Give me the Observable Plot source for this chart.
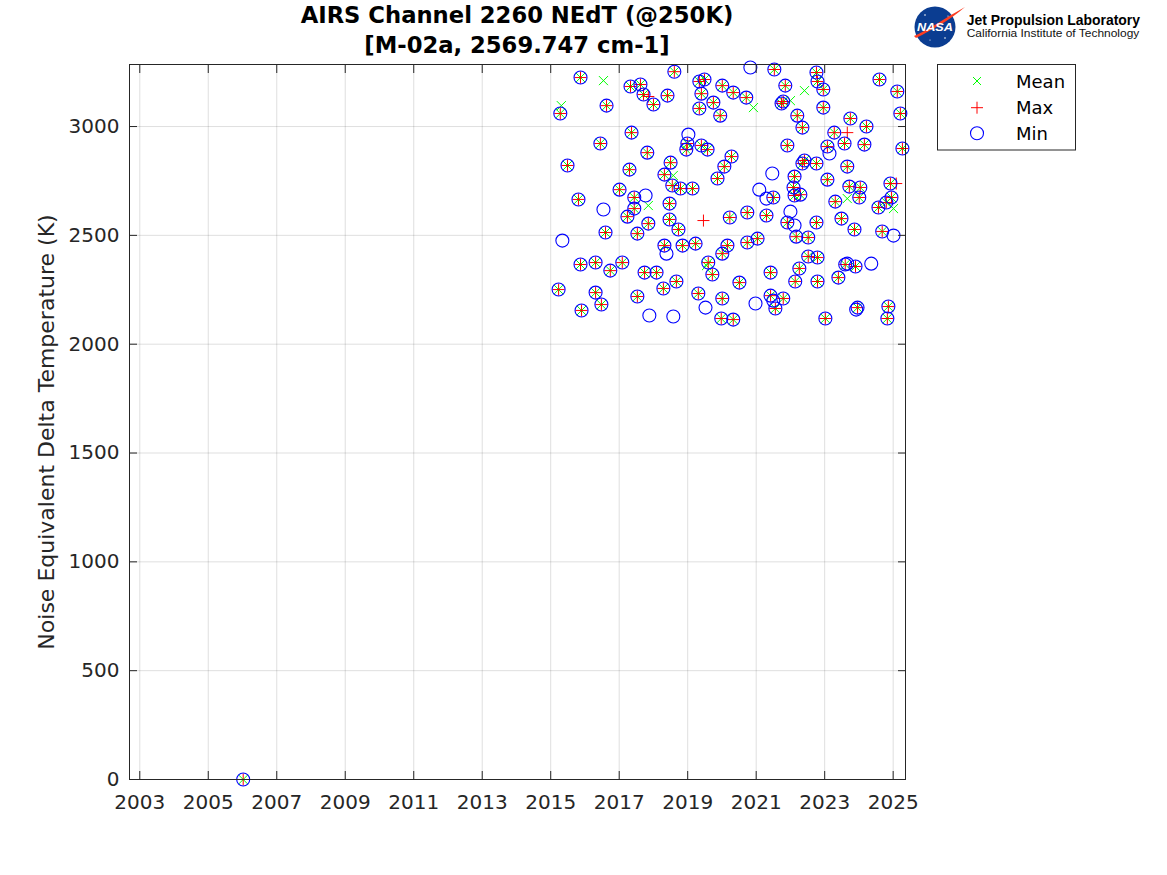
<!DOCTYPE html>
<html>
<head>
<meta charset="utf-8">
<script src="https://cdn.jsdelivr.net/npm/d3@7"></script>
<script src="https://cdn.jsdelivr.net/npm/@observablehq/plot@0.6"></script>
<style>
  html, body { margin: 0; padding: 0; background: #ffffff; }
  #wrap { position: relative; width: 1167px; height: 875px; overflow: hidden; background: #ffffff; }
  #wrap > svg { position: absolute; left: 0; top: 0; }
  #overlay { pointer-events: none; }
</style>
</head>
<body>
<div id="wrap"></div>
<script>
// ---- tick labels ----
const tickYears = [2003, 2005, 2007, 2009, 2011, 2013, 2015, 2017, 2019, 2021, 2023, 2025];
const nedtTicks = [0, 500, 1000, 1500, 2000, 2500, 3000];

// ---- epochs where Mean = Max = Min (decimal year, NEdT) ----
const epochYears = [
  2006.02,
  2015.87, 2015.28, 2016.63, 2017.33, 2017.62, 2017.71, 2018.00, 2018.41, 2018.61, 2019.34,
  2019.49, 2019.40, 2020.01, 2019.75, 2019.34, 2019.95, 2020.33, 2017.36, 2016.45, 2017.82,
  2018.99, 2018.96, 2019.40, 2019.58, 2015.49, 2017.30, 2018.50, 2018.32, 2018.55, 2018.79,
  2019.14, 2020.07, 2019.87, 2020.28, 2017.01, 2015.81, 2017.44, 2017.44, 2018.47, 2017.24,
  2018.47, 2018.73, 2020.23, 2016.60, 2017.53, 2017.85, 2018.32, 2018.85, 2019.23, 2020.16,
  2020.01, 2019.60, 2019.72, 2015.87, 2016.31, 2016.74, 2017.09, 2017.74, 2018.09, 2018.67,
  2018.29, 2017.53, 2015.23, 2016.31, 2016.48, 2015.90, 2019.31, 2020.01, 2019.98, 2020.33,
  2021.53, 2022.76, 2022.79, 2022.96, 2021.85, 2020.71, 2021.74, 2021.79, 2022.20, 2022.35,
  2022.96, 2023.75, 2024.22, 2024.60, 2025.12, 2025.21, 2023.28, 2023.58, 2024.16, 2023.08,
  2025.27, 2021.91, 2022.41, 2022.35, 2022.76, 2023.66, 2022.12, 2023.08, 2022.09, 2022.12,
  2022.29, 2021.50, 2023.72, 2024.04, 2024.01, 2024.92, 2024.95, 2024.80, 2024.57, 2023.31,
  2020.74, 2021.30, 2021.91, 2022.76, 2023.49, 2023.87, 2024.68, 2022.17, 2022.52, 2020.74,
  2021.04, 2022.52, 2022.79, 2023.60, 2023.90, 2023.40, 2022.26, 2021.42, 2022.14, 2022.79,
  2020.51, 2021.42, 2021.79, 2021.56, 2023.02, 2023.96, 2024.86, 2024.83
];
const epochNedt = [
  0,
  3225, 3060, 3096, 3184, 3193, 3147, 3101, 3142, 3252, 3207,
  3216, 3151, 3188, 3110, 3083, 3050, 3156, 2972, 2922, 2880,
  2922, 2894, 2913, 2894, 2821, 2802, 2834, 2779, 2729, 2715,
  2715, 2816, 2761, 2862, 2710, 2665, 2674, 2623, 2646, 2586,
  2573, 2527, 2582, 2513, 2508, 2554, 2453, 2453, 2462, 2453,
  2416, 2375, 2320, 2366, 2375, 2338, 2375, 2329, 2329, 2288,
  2256, 2219, 2251, 2237, 2182, 2155, 2233, 2210, 2118, 2113,
  3262, 3248, 3207, 3170, 3188, 3133, 3106, 3115, 3050, 2995,
  3087, 3037, 3000, 3216, 3161, 3060, 2972, 2922, 2917, 2908,
  2899, 2913, 2844, 2830, 2830, 2816, 2770, 2756, 2720, 2683,
  2687, 2674, 2724, 2720, 2674, 2738, 2674, 2651, 2628, 2655,
  2605, 2591, 2559, 2559, 2577, 2527, 2518, 2494, 2490, 2467,
  2485, 2403, 2398, 2366, 2357, 2306, 2348, 2329, 2288, 2288,
  2283, 2223, 2210, 2164, 2118, 2168, 2173, 2118
];

// ---- epochs where the series differ ----
const meanOnlyYears = [2016.54, 2015.31, 2017.85, 2018.58, 2020.92, 2022.00, 2022.41, 2023.66, 2025.01, 2019.55];
const meanOnlyNedt  = [3211, 3096, 2637, 2775, 3087, 3119, 3165, 2669, 2623, 2361];
const maxOnlyYears  = [2017.85, 2019.46, 2023.66, 2025.09];
const maxOnlyNedt   = [3138, 2568, 2972, 2738];
const minOnlyYears  = [2020.83, 2019.02, 2016.54, 2015.34, 2018.38, 2017.88, 2018.58, 2019.52, 2017.77, 2021.47,
                       2021.09, 2021.30, 2020.98, 2022.00, 2022.12, 2025.01, 2024.36, 2023.14, 2021.50, 2023.66, 2023.92];
const minOnlyNedt   = [3271, 2963, 2619, 2476, 2416, 2132, 2127, 2168, 2683, 2784,
                       2710, 2669, 2187, 2609, 2545, 2499, 2370, 2876, 2200, 2370, 2159];

const toRows = (xs, ys) => xs.map((x, i) => ({year: x, nedt: ys[i]}));
const meanRows = toRows(epochYears, epochNedt).concat(toRows(meanOnlyYears, meanOnlyNedt));
const maxRows  = toRows(epochYears, epochNedt).concat(toRows(maxOnlyYears, maxOnlyNedt));
const minRows  = toRows(epochYears, epochNedt).concat(toRows(minOnlyYears, minOnlyNedt));

const axisColor = "#262626";

const chart = Plot.plot({
  width: 1167,
  height: 875,
  marginLeft: 129,
  marginRight: 262,
  marginTop: 64,
  marginBottom: 96,
  style: {fontFamily: "DejaVu Sans", fontSize: "20px", color: axisColor, background: "transparent", overflow: "visible"},
  x: {domain: [2002.70, 2025.36]},
  y: {domain: [0, 3285]},
  marks: [
    Plot.gridX(tickYears, {stroke: axisColor, strokeOpacity: 0.15}),
    Plot.gridY(nedtTicks, {stroke: axisColor, strokeOpacity: 0.15}),
    Plot.dot(meanRows, {x: "year", y: "nedt", symbol: "times", r: 4.2, stroke: "#00ff00", strokeWidth: 1}),
    Plot.dot(maxRows,  {x: "year", y: "nedt", symbol: "plus",  r: 3.95, stroke: "#ff0000", strokeWidth: 1}),
    Plot.dot(minRows,  {x: "year", y: "nedt", symbol: "circle", r: 6.5, stroke: "#0000ff", fill: "none", strokeWidth: 1.1}),
    Plot.frame({stroke: axisColor, strokeWidth: 1}),
    Plot.axisX(tickYears, {anchor: "bottom", tickSize: -8, tickPadding: 23, tickFormat: d3.format("d"), label: null, fontSize: 20, stroke: axisColor}),
    Plot.axisX(tickYears, {anchor: "top", tickSize: -8, tickFormat: () => "", label: null, stroke: axisColor}),
    Plot.axisY(nedtTicks, {anchor: "left", tickSize: -8, tickPadding: 18, tickFormat: d3.format("d"), label: null, fontSize: 20, stroke: axisColor}),
    Plot.axisY(nedtTicks, {anchor: "right", tickSize: -8, tickFormat: () => "", label: null, stroke: axisColor})
  ]
});

const wrap = document.getElementById("wrap");
wrap.appendChild(chart);

// ---- overlay: title, axis label, legend, logo ----
const NS = "http://www.w3.org/2000/svg";
const ov = document.createElementNS(NS, "svg");
ov.setAttribute("id", "overlay");
ov.setAttribute("width", 1167);
ov.setAttribute("height", 875);
ov.innerHTML = `
  <g font-family="DejaVu Sans" font-weight="bold" font-size="22.7" fill="#000" text-anchor="middle">
    <text x="517" y="23.3">AIRS Channel 2260 NEdT (@250K)</text>
    <text x="517" y="52.5">[M-02a, 2569.747 cm-1]</text>
  </g>
  <text transform="translate(53.5,432) rotate(-90)" font-family="DejaVu Sans" font-size="22" fill="${axisColor}" text-anchor="middle">Noise Equivalent Delta Temperature (K)</text>
  <g>
    <rect x="937.5" y="64.5" width="138" height="85.5" fill="#fff" stroke="${axisColor}" stroke-width="1"></rect>
    <path d="M973,77 L981,85 M973,85 L981,77" stroke="#00ff00" stroke-width="1" fill="none"></path>
    <path d="M971,107.7 L983,107.7 M977,101.7 L977,113.7" stroke="#ff0000" stroke-width="1" fill="none"></path>
    <circle cx="977" cy="133.3" r="6.5" stroke="#0000ff" stroke-width="1.1" fill="none"></circle>
    <g font-family="DejaVu Sans" font-size="18" fill="#000">
      <text x="1016" y="87.7">Mean</text>
      <text x="1016" y="114.3">Max</text>
      <text x="1016" y="140">Min</text>
    </g>
  </g>
  <g>
    <circle cx="935" cy="27" r="20.5" fill="#0b3d91"></circle>
    <path d="M914,36 C928,30 945,18 965,7 C950,20 932,30 916,38 Z" fill="#fc3d21"></path>
    <circle cx="925" cy="15" r="0.8" fill="#fff"></circle>
    <circle cx="945" cy="38" r="0.8" fill="#fff"></circle>
    <circle cx="930" cy="40" r="0.6" fill="#fff"></circle>
    <circle cx="948" cy="16" r="0.6" fill="#fff"></circle>
    <text x="935" y="31" font-family="Liberation Sans" font-weight="bold" font-style="italic" font-size="11.5" fill="#fff" text-anchor="middle" textLength="36" lengthAdjust="spacingAndGlyphs">NASA</text>
    <text x="966.7" y="25" font-family="Liberation Sans" font-weight="bold" font-size="14" fill="#000" textLength="173.3" lengthAdjust="spacingAndGlyphs">Jet Propulsion Laboratory</text>
    <text x="966.7" y="37.3" font-family="Liberation Sans" font-size="10.5" fill="#111" textLength="172.6" lengthAdjust="spacingAndGlyphs">California Institute of Technology</text>
  </g>
`;
wrap.appendChild(ov);
</script>
</body>
</html>
